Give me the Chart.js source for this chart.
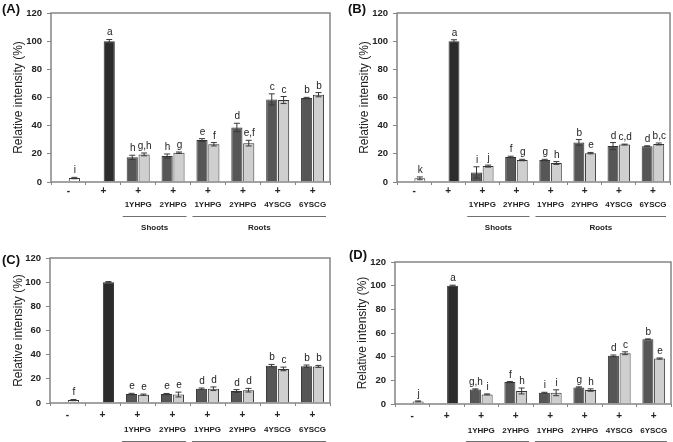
<!DOCTYPE html>
<html>
<head>
<meta charset="utf-8">
<script src="https://cdn.jsdelivr.net/npm/chart.js@4"></script>
<style>
  html, body { margin: 0; padding: 0; background: #fff; }
  body { width: 673px; height: 442px; position: relative; overflow: hidden; font-family: "Liberation Sans", Arial, sans-serif; }
  .panel { position: absolute; }
  .tag { position: absolute; font-weight: bold; font-size: 13px; line-height: 13px; color: #111; }
</style>
</head>
<body>

<script>
/* shared axis data */
const signs = ["-", "+", "+", "+", "+", "+", "+", "+"];
const names = ["", "", "1YHPG", "2YHPG", "1YHPG", "2YHPG", "4YSCG", "6YSCG"];
const groupNames = ["Shoots", "Roots"];
const groupFrom = [2, 4];
const groupTo = [3, 7];
const yMin = 0, yMax = 120, yStep = 20;

/* (A) */
const darkA = [null, null, 17.5, 18.4, 29.8, 38.7, 58.6, 59.6];
const darkErrA = [0, 0, 1.5, 1.5, 1.0, 3.0, 4.0, 0.5];
const darkLetA = ["", "", "h", "h", "e", "d", "c", "b"];
const lightA = [2.8, 100, 19.6, 20.8, 26.8, 27.6, 58.2, 62.0];
const lightErrA = [0.5, 1.2, 1.0, 0.5, 1.2, 2.0, 2.5, 1.5];
const lightLetA = ["i", "a", "g,h", "g", "f", "e,f", "c", "b"];

/* (B) */
const darkB = [null, null, 6.8, 17.8, 15.6, 28.1, 25.5, 25.4];
const darkErrB = [0, 0, 4.0, 0.5, 0.5, 2.0, 2.5, 0.3];
const darkLetB = ["", "", "i", "f", "g", "b", "d", "d"];
const lightB = [2.6, 100, 11.3, 15.6, 13.5, 20.5, 26.6, 27.0];
const lightErrB = [1.0, 1.0, 0.7, 0.5, 1.0, 0.5, 0.3, 0.7];
const lightLetB = ["k", "a", "j", "g", "h", "e", "c,d", "b,c"];

/* (C) */
const darkC = [null, null, 7.4, 7.4, 11.8, 9.9, 30.9, 30.4];
const darkErrC = [0, 0, 0.6, 0.5, 0.6, 1.2, 1.0, 1.0];
const darkLetC = ["", "", "e", "e", "d", "d", "b", "b"];
const lightC = [2.4, 100, 6.9, 7.0, 11.8, 10.6, 28.2, 30.3];
const lightErrC = [0.5, 0.5, 0.5, 2.0, 1.5, 1.5, 1.5, 0.8];
const lightLetC = ["f", "", "e", "e", "d", "d", "c", "b"];

/* (D) */
const darkD = [null, null, 12.3, 18.5, 9.5, 14.0, 40.7, 54.7];
const darkErrD = [0, 0, 0.5, 0.5, 0.4, 0.5, 0.7, 0.3];
const darkLetD = ["", "", "g,h", "f", "i", "g", "d", "b"];
const lightD = [2.2, 100, 8.1, 11.0, 9.5, 11.8, 42.9, 38.4];
const lightErrD = [0.4, 0.4, 0.4, 2.5, 2.5, 1.0, 1.2, 0.5];
const lightLetD = ["j", "a", "i", "h", "i", "h", "c", "e"];

const DARK = "#565656", LIGHT = "#cfcfcf", BLACK = "#2c2c2c", EDGE = "#333", FRAME = "#858585";
const lightColors = ["#ffffff", BLACK, LIGHT, LIGHT, LIGHT, LIGHT, LIGHT, LIGHT];
const FONT = "'Liberation Sans', Arial";

/* error bars, significance letters, frame, names row, group underlines */
const extras = {
  id: "extras",
  afterDatasetsDraw(chart) {
    const { ctx, chartArea: area, scales: { x, y } } = chart;
    const o = chart.options.plugins.extras;
    ctx.save();
    chart.data.datasets.forEach((ds, di) => {
      const meta = chart.getDatasetMeta(di);
      meta.data.forEach((bar, i) => {
        const v = ds.data[i];
        if (v == null) return;
        const e = ds.errors[i];
        const top = y.getPixelForValue(v + e), bot = y.getPixelForValue(v - e);
        ctx.strokeStyle = "#3a3a3a";
        ctx.lineWidth = 1;
        ctx.beginPath();
        ctx.moveTo(bar.x, top); ctx.lineTo(bar.x, bot);
        ctx.moveTo(bar.x - 3, top); ctx.lineTo(bar.x + 3, top);
        ctx.moveTo(bar.x - 3, bot); ctx.lineTo(bar.x + 3, bot);
        ctx.stroke();
        if (ds.letters[i]) {
          ctx.fillStyle = "#222";
          ctx.font = "10px " + FONT;
          ctx.textAlign = "center";
          ctx.textBaseline = "alphabetic";
          ctx.fillText(ds.letters[i], bar.x + 0.5, top - 4);
        }
      });
    });
    ctx.strokeStyle = FRAME;
    ctx.lineWidth = 1.5;
    ctx.strokeRect(area.left, area.top, area.right - area.left, area.bottom - area.top);

    ctx.fillStyle = "#222";
    ctx.font = "bold 8px " + FONT;
    ctx.textAlign = "center";
    ctx.textBaseline = "middle";
    names.forEach((n, i) => {
      if (n) ctx.fillText(n, x.getPixelForValue(i), area.bottom + o.nameGap);
    });

    const half = (x.getPixelForValue(1) - x.getPixelForValue(0)) / 2;
    groupNames.forEach((name, g) => {
      const l = x.getPixelForValue(groupFrom[g]) - half + 2;
      const r = x.getPixelForValue(groupTo[g]) + half - 4;
      const ly = area.bottom + o.lineGap;
      ctx.strokeStyle = "#6f6f6f";
      ctx.lineWidth = 1;
      ctx.beginPath(); ctx.moveTo(l, ly + 0.5); ctx.lineTo(r, ly + 0.5); ctx.stroke();
      ctx.fillStyle = "#222";
      ctx.fillText(name, (l + r) / 2, ly + 12);
    });
    ctx.restore();
  }
};

function panel(p) {
  const wrap = document.createElement("div");
  wrap.className = "panel";
  wrap.style.left = p.left + "px";
  wrap.style.top = p.top + "px";
  const cv = document.createElement("canvas");
  cv.width = p.w; cv.height = p.h;
  cv.style.width = p.w + "px"; cv.style.height = p.h + "px";
  wrap.appendChild(cv);
  document.body.appendChild(wrap);

  const tag = document.createElement("div");
  tag.className = "tag";
  tag.textContent = p.tag;
  tag.style.left = p.tagX + "px";
  tag.style.top = p.tagY + "px";
  document.body.appendChild(tag);

  new Chart(cv, {
    type: "bar",
    data: {
      labels: signs,
      datasets: [
        { data: p.dark, errors: p.darkErr, letters: p.darkLet, backgroundColor: DARK,
          borderColor: EDGE, borderWidth: 1, categoryPercentage: 0.68, barPercentage: 0.94 },
        { data: p.light, errors: p.lightErr, letters: p.lightLet, backgroundColor: lightColors,
          borderColor: EDGE, borderWidth: 1, categoryPercentage: 0.68, barPercentage: 0.94 }
      ]
    },
    options: {
      responsive: false,
      animation: false,
      layout: { padding: { left: 0, top: p.areaTop, right: p.w - p.areaRight, bottom: 0 } },
      plugins: { legend: { display: false }, tooltip: { enabled: false },
                 extras: { lineGap: p.lineGap, nameGap: p.nameGap } },
      scales: {
        x: {
          afterFit(s) { s.height = p.h - p.areaBottom; },
          border: { display: false },
          grid: { drawOnChartArea: false, offset: true, tickLength: 3, color: FRAME },
          ticks: { autoSkip: false, maxRotation: 0, padding: p.xPad, color: "#222",
                   font: { family: FONT, weight: "bold", size: 10 } }
        },
        y: {
          min: yMin, max: yMax,
          afterFit(s) { s.width = p.areaLeft; },
          border: { display: false },
          grid: { drawOnChartArea: false, tickLength: 4, color: FRAME },
          ticks: { stepSize: yStep, padding: 5, color: "#222",
                   font: { family: FONT, weight: "bold", size: 9.5 } },
          title: { display: true, text: "Relative intensity (%)", color: "#222",
                   padding: { top: p.titlePad, bottom: 0 },
                   font: { family: FONT, size: 12 } }
        }
      }
    },
    plugins: [extras]
  });
}

panel({ tag: "(A)", tagX: 2, tagY: 2, left: 0, top: 0, w: 336, h: 236,
        areaLeft: 51, areaTop: 13, areaRight: 330, areaBottom: 182,
        titlePad: 11, xPad: 0, nameGap: 23, lineGap: 34,
        dark: darkA, darkErr: darkErrA, darkLet: darkLetA, light: lightA, lightErr: lightErrA, lightLet: lightLetA });
panel({ tag: "(B)", tagX: 348, tagY: 2, left: 336, top: 0, w: 337, h: 236,
        areaLeft: 61, areaTop: 13, areaRight: 334, areaBottom: 182,
        titlePad: 21, xPad: 0, nameGap: 23, lineGap: 34,
        dark: darkB, darkErr: darkErrB, darkLet: darkLetB, light: lightB, lightErr: lightErrB, lightLet: lightLetB });
panel({ tag: "(C)", tagX: 2, tagY: 253, left: 0, top: 240, w: 336, h: 202,
        areaLeft: 50, areaTop: 18, areaRight: 330, areaBottom: 163,
        titlePad: 11, xPad: 3, nameGap: 27, lineGap: 38,
        dark: darkC, darkErr: darkErrC, darkLet: darkLetC, light: lightC, lightErr: lightErrC, lightLet: lightLetC });
panel({ tag: "(D)", tagX: 349, tagY: 248, left: 336, top: 240, w: 337, h: 202,
        areaLeft: 59, areaTop: 22, areaRight: 335, areaBottom: 164,
        titlePad: 19.5, xPad: 3, nameGap: 27, lineGap: 37,
        dark: darkD, darkErr: darkErrD, darkLet: darkLetD, light: lightD, lightErr: lightErrD, lightLet: lightLetD });
</script>
</body>
</html>
